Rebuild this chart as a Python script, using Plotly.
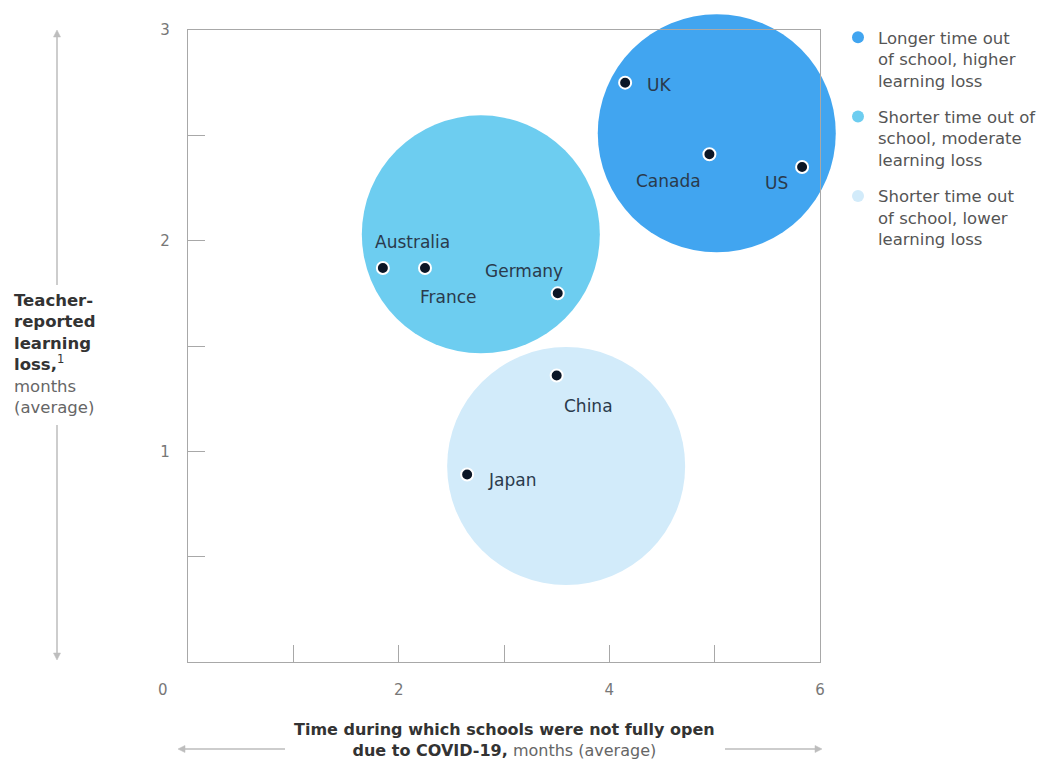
import plotly.graph_objects as go

# ---- data ----
countries = ["UK", "Canada", "US", "Australia", "France", "Germany", "China", "Japan"]
closure_months = [4.15, 4.95, 5.83, 1.85, 2.25, 3.51, 3.50, 2.65]
learning_loss = [2.75, 2.41, 2.35, 1.87, 1.87, 1.75, 1.36, 0.89]

group_names = [
    "Longer time out<br>of school, higher<br>learning loss",
    "Shorter time out of<br>school, moderate<br>learning loss",
    "Shorter time out<br>of school, lower<br>learning loss",
]
group_x = [5.02, 2.78, 3.59]
group_y = [2.51, 2.03, 0.93]

x_tickvals = [2, 4, 6]
x_ticktext = ["2", "4", "6"]
x_minor_ticks = [1, 3, 5]
y_tickvals = [1, 2, 3]
y_ticktext = ["1", "2", "3"]
y_minor_ticks = [0.5, 1.5, 2.5]

# ---- styles ----
group_colors = ["#41a5f0", "#6dcdf0", "#d2ebfa"]
bubble_size = 238
FONT = "DejaVu Sans"
label_style = {  # xanchor, xshift, yshift
    "UK": ("left", 20, -2),
    "Canada": ("right", -6, -27),
    "US": ("right", -12, -16),
    "Australia": ("left", -10, 26),
    "France": ("left", -7, -29),
    "Germany": ("right", 7, 22),
    "China": ("left", 5, -31),
    "Japan": ("left", 19, -5),
}

L, R, T, B = 188, 820, 30, 662
W = R - L
H = B - T


def px_x(p):
    return (p - L) / W


def px_y(p):
    return (B - p) / H


fig = go.Figure()

for name, gx, gy, col in zip(group_names, group_x, group_y, group_colors):
    fig.add_trace(go.Scatter(
        x=[gx], y=[gy], mode="markers", name=name, legendgroup=name,
        marker=dict(size=bubble_size, color=col, line=dict(width=0)),
        cliponaxis=False, hoverinfo="skip",
    ))

fig.add_trace(go.Scatter(
    x=closure_months, y=learning_loss, mode="markers", showlegend=False,
    marker=dict(size=12, color="#0b1626", line=dict(width=2, color="white")),
    cliponaxis=False, text=countries, hoverinfo="text",
))

annotations = []
for c, xv, yv in zip(countries, closure_months, learning_loss):
    xa, xs, ys = label_style[c]
    annotations.append(dict(
        x=xv, y=yv, xref="x", yref="y", text=c, showarrow=False,
        xanchor=xa, yanchor="middle", xshift=xs, yshift=ys,
        font=dict(family=FONT, size=17, color="#2a3a4c"),
    ))

# corner zero label
annotations.append(dict(x=px_x(163), y=px_y(690), xref="paper", yref="paper", text="0",
                        showarrow=False, xanchor="center", yanchor="middle",
                        font=dict(family=FONT, size=15, color="#777")))

# y title
annotations.append(dict(
    x=px_x(12), y=px_y(354), xref="paper", yref="paper", showarrow=False,
    xanchor="left", yanchor="middle", align="left",
    text=("<b>Teacher-<br>reported<br>learning<br>loss,</b><sup>1</sup><br>"
          "<span style='color:#666'>months<br>(average)</span>"),
    font=dict(family=FONT, size=16.5, color="#333"),
))
# x title
annotations.append(dict(
    x=0.5, y=px_y(740), xref="paper", yref="paper", showarrow=False,
    xanchor="center", yanchor="middle", align="center",
    text=("<b>Time during which schools were not fully open<br>due to COVID-19,</b>"
          " <span style='color:#666'>months (average)</span>"),
    font=dict(family=FONT, size=16, color="#333"),
))

# decorative arrows (lines + small triangle heads), in paper coordinates
ARROW = "#bdbdbd"
shapes = []


def seg(x0, y0, x1, y1):
    shapes.append(dict(type="line", xref="paper", yref="paper",
                       x0=px_x(x0), y0=px_y(y0), x1=px_x(x1), y1=px_y(y1),
                       line=dict(color=ARROW, width=1.5)))


def head(tx, ty, dx, dy):
    # tip at (tx, ty), pointing in direction (dx, dy) (unit, pixel space)
    ln, hw = 7, 3.5
    bx, by = tx - dx * ln, ty - dy * ln
    nx, ny = -dy, dx
    pts = [(tx, ty), (bx + nx * hw, by + ny * hw), (bx - nx * hw, by - ny * hw)]
    path = "M " + " L ".join(f"{px_x(a):.5f},{px_y(b):.5f}" for a, b in pts) + " Z"
    shapes.append(dict(type="path", xref="paper", yref="paper", path=path,
                       fillcolor=ARROW, line=dict(color=ARROW, width=0.5)))


seg(57, 36, 57, 285)
head(57, 30, 0, -1)
seg(57, 425, 57, 654)
head(57, 660, 0, 1)
seg(184, 749, 285, 749)
head(178, 749, -1, 0)
seg(725, 749, 816, 749)
head(822, 749, 1, 0)

axis_common = dict(
    showgrid=False, zeroline=False, showline=True, linecolor="#a8a8a8", linewidth=1.2,
    mirror=True, ticks="inside", ticklen=17, tickcolor="#a8a8a8", tickwidth=1.2,
    tickfont=dict(family=FONT, size=15, color="#777"), fixedrange=True,
)

fig.update_layout(
    width=1048, height=762,
    margin=dict(l=L, r=1048 - R, t=T, b=762 - B, autoexpand=False),
    paper_bgcolor="white", plot_bgcolor="white",
    xaxis=dict(range=[0, 6], tickvals=x_tickvals, ticktext=x_ticktext,
               ticklabelstandoff=14,
               minor=dict(tickvals=x_minor_ticks, ticks="inside", ticklen=17,
                          tickcolor="#a8a8a8", tickwidth=1.2, showgrid=False),
               **axis_common),
    yaxis=dict(range=[0, 3], tickvals=y_tickvals, ticktext=y_ticktext,
               ticklabelstandoff=14,
               minor=dict(tickvals=y_minor_ticks, ticks="inside", ticklen=17,
                          tickcolor="#a8a8a8", tickwidth=1.2, showgrid=False),
               **axis_common),
    showlegend=True,
    legend=dict(x=px_x(838), y=px_y(20), xanchor="left", yanchor="top", valign="top",
                itemsizing="constant", tracegroupgap=12, bgcolor="rgba(0,0,0,0)",
                font=dict(family=FONT, size=16.5, color="#555")),
    annotations=annotations,
    shapes=shapes,
    font=dict(family=FONT),
)

fig.write_html("out.html")
